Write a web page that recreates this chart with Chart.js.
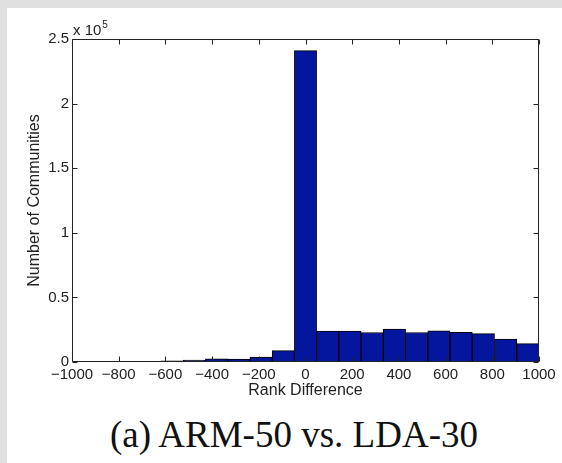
<!DOCTYPE html>
<html>
<head>
<meta charset="utf-8">
<script src="https://cdn.jsdelivr.net/npm/chart.js@4/dist/chart.umd.min.js"></script>
<style>
  html { margin: 0; padding: 0; background: #fff; overflow: hidden; }
  body { margin: 0; padding: 0; width: 562px; height: 463px; position: relative; overflow: hidden;
         background: #fff; border-top: 8px solid #e0e0e0; border-left: 7px solid #e0e0e0; box-sizing: border-box; }
  #hist { position: absolute; left: -7px; top: -8px; }
  #caption {
    position: absolute; left: -7px; width: 588px; top: 408px; text-align: center;
    font-family: "Liberation Serif", serif; font-size: 37px; line-height: 1; color: #111;
  }
</style>
</head>
<body>
<canvas id="hist" width="562" height="400"></canvas>
<div id="caption">(a) ARM-50 vs. LDA-30</div>
<script>
// histogram bin centres (21 bins over -1000..1000)
const binCenters = [-952.4, -857.1, -761.9, -666.7, -571.4, -476.2, -381.0, -285.7, -190.5, -95.2,
    0, 95.2, 190.5, 285.7, 381.0, 476.2, 571.4, 666.7, 761.9, 857.1, 952.4];
// number of communities per bin
const counts = [0, 0, 0, 0, 1000, 1400, 2400, 2300, 3900, 8800,
    241000, 24000, 24000, 22800, 25500, 22800, 24200, 23000, 22000, 17800, 14200];

const xTicks = [-1000, -800, -600, -400, -200, 0, 200, 400, 600, 800, 1000];
const yTicks = [0, 50000, 100000, 150000, 200000, 250000];

const textColor = '#222';
const tickFont = { family: '"Liberation Sans", Arial, sans-serif', size: 15 };
const titleFont = { family: '"Liberation Sans", Arial, sans-serif', size: 16 };

// MATLAB style box with inward tick marks and the exponent label
const matlabAxes = {
    id: 'matlabAxes',
    afterDatasetsDraw(chart) {
        const { ctx, chartArea: a, scales: { x, y } } = chart;
        const len = 5;
        ctx.save();
        ctx.strokeStyle = '#222';
        ctx.lineWidth = 1;
        const L = Math.round(a.left) + 0.5, R = Math.round(a.right) - 0.5;
        const T = Math.round(a.top) + 0.5, B = Math.round(a.bottom) - 0.5;
        ctx.beginPath();
        ctx.rect(L, T, R - L, B - T);
        x.ticks.forEach(t => {
            const px = Math.round(x.getPixelForValue(t.value)) + 0.5;
            ctx.moveTo(px, B); ctx.lineTo(px, B - len);
            ctx.moveTo(px, T); ctx.lineTo(px, T + len);
        });
        y.ticks.forEach(t => {
            const py = Math.round(y.getPixelForValue(t.value)) + 0.5;
            ctx.moveTo(L, py); ctx.lineTo(L + len, py);
            ctx.moveTo(R, py); ctx.lineTo(R - len, py);
        });
        ctx.stroke();

        ctx.fillStyle = textColor;
        ctx.textBaseline = 'alphabetic';
        ctx.font = '15px "Liberation Sans", Arial, sans-serif';
        ctx.fillText('x 10', a.left + 1, a.top - 4);
        const w = ctx.measureText('x 10').width;
        ctx.font = '10px "Liberation Sans", Arial, sans-serif';
        ctx.fillText('5', a.left + 2 + w, a.top - 11);
        ctx.restore();
    }
};

new Chart(document.getElementById('hist'), {
    type: 'bar',
    data: {
        datasets: [{
            data: binCenters.map((c, i) => ({ x: c, y: counts[i] })),
            backgroundColor: 'rgb(4, 22, 158)',
            borderColor: '#000',
            borderWidth: 1,
            borderSkipped: false,
            barPercentage: 1,
            categoryPercentage: 1
        }]
    },
    options: {
        responsive: false,
        animation: false,
        layout: { padding: { left: 25, top: 39, right: 23, bottom: 0 } },
        plugins: {
            legend: { display: false },
            tooltip: { enabled: false }
        },
        scales: {
            x: {
                type: 'linear',
                min: -1000,
                max: 1000,
                offset: false,
                grid: { display: false, drawTicks: false, offset: false },
                border: { display: false },
                afterBuildTicks: s => { s.ticks = xTicks.map(v => ({ value: v })); },
                afterFit: s => { s.height = 38; },
                ticks: {
                    color: textColor,
                    font: tickFont,
                    padding: 4,
                    maxRotation: 0,
                    autoSkip: false,
                    callback: v => String(v).replace('-', '\u2212')
                },
                title: {
                    display: true,
                    text: 'Rank Difference',
                    color: textColor,
                    font: titleFont,
                    padding: 0
                }
            },
            y: {
                min: 0,
                max: 250000,
                grid: { display: false, drawTicks: false },
                border: { display: false },
                afterBuildTicks: s => { s.ticks = yTicks.map(v => ({ value: v })); },
                afterFit: s => { s.width = 47; },
                ticks: {
                    color: textColor,
                    font: tickFont,
                    padding: 3,
                    callback: v => String(v / 100000)
                },
                title: {
                    display: true,
                    text: 'Number of Communities',
                    color: textColor,
                    font: titleFont,
                    padding: 0
                }
            }
        }
    },
    plugins: [matlabAxes]
});
</script>
</body>
</html>
